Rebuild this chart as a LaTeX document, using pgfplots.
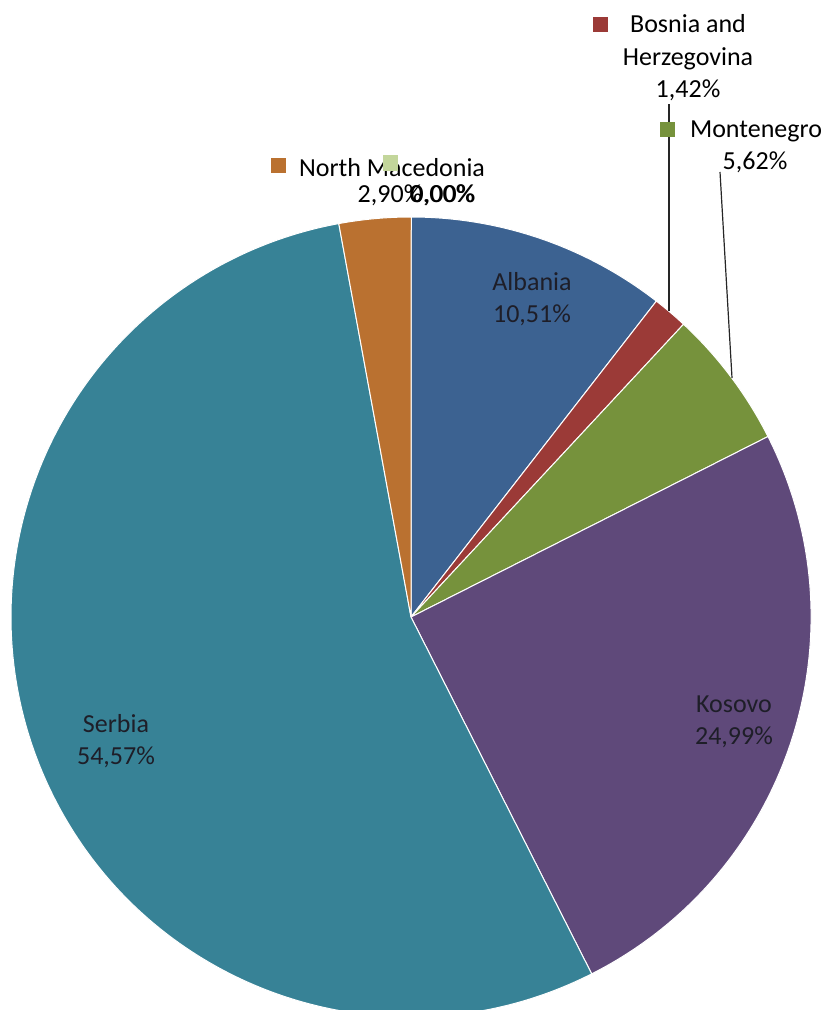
\documentclass[border=0pt]{standalone}
\usepackage{pgfplots}
\pgfplotsset{compat=1.18}
\usepackage{fontspec}
\setmainfont{Carlito}
\definecolor{cAlb}{HTML}{3C6291}
\definecolor{cBih}{HTML}{9B3A37}
\definecolor{cMne}{HTML}{76923C}
\definecolor{cKos}{HTML}{5F497A}
\definecolor{cSrb}{HTML}{378296}
\definecolor{cMkd}{HTML}{BA7130}
\definecolor{cZero}{HTML}{C3D69B}
\definecolor{txt}{HTML}{1E1E28}
% slice: #1 = cumulative share before it (%), #2 = share (%), #3 = colour
\newcommand\slice[3]{\fill[#3, draw=white, line width=0.5pt] (axis cs:411,617) -- ++({90-3.6*#1}:200pt) arc[start angle={90-3.6*#1}, delta angle={-3.6*#2}, radius=200pt] -- cycle;}
\begin{document}
\begin{tikzpicture}[lbl/.style={font=\fontsize{13}{16.3}\selectfont, text=txt, align=center, inner sep=0pt}]
\begin{axis}[width=413.5pt,height=505pt,scale only axis,hide axis,
  xmin=0,xmax=827,ymin=0,ymax=1010,y dir=reverse,clip=true]
\path (rel axis cs:0,0) rectangle (rel axis cs:1,1);
% shares: Albania 10.51, Bosnia and Herzegovina 1.42, Montenegro 5.62,
% Kosovo 24.99, Serbia 54.57, North Macedonia 2.90, (unnamed) 0.00
\slice{0}{10.51}{cAlb}
\slice{10.51}{1.42}{cBih}
\slice{11.93}{5.62}{cMne}
\slice{17.55}{24.99}{cKos}
\slice{42.54}{54.57}{cSrb}
\slice{97.11}{2.90}{cMkd}
% leader lines
\draw[black!85, line width=0.6pt] (axis cs:669,311) -- (axis cs:669,104);
\draw[black!85, line width=0.6pt] (axis cs:732,378) -- (axis cs:720,172);
% inside labels
\node[lbl] at (axis cs:532,299) {Albania\\10,51\%};
\node[lbl] at (axis cs:734,722) {Kosovo\\24,99\%};
\node[lbl] at (axis cs:116,741) {Serbia\\54,57\%};
% outside labels
\node[lbl, text=black] at (axis cs:688,58) {Bosnia and\\Herzegovina\\1,42\%};
\fill[cBih] (axis cs:592.5,17) rectangle (axis cs:607.5,32);
\node[lbl, text=black] at (axis cs:756,131) {Montenegro};
\fill[cMne] (axis cs:660,122) rectangle (axis cs:675,137);
\node[lbl, text=black] at (axis cs:755,162) {5,62\%};
\node[lbl, text=black] at (axis cs:392,168) {North Macedonia};
\fill[cMkd] (axis cs:271,158) rectangle (axis cs:286,173);
\node[lbl, text=black] at (axis cs:390,195) {2,90\%};
\node[lbl, text=black] at (axis cs:442,195) {0,00\%};
\node[lbl, text=black] at (axis cs:443,195) {0,00\%};
\fill[cZero] (axis cs:383,155) rectangle (axis cs:398,171);
\end{axis}
\end{tikzpicture}
\end{document}
